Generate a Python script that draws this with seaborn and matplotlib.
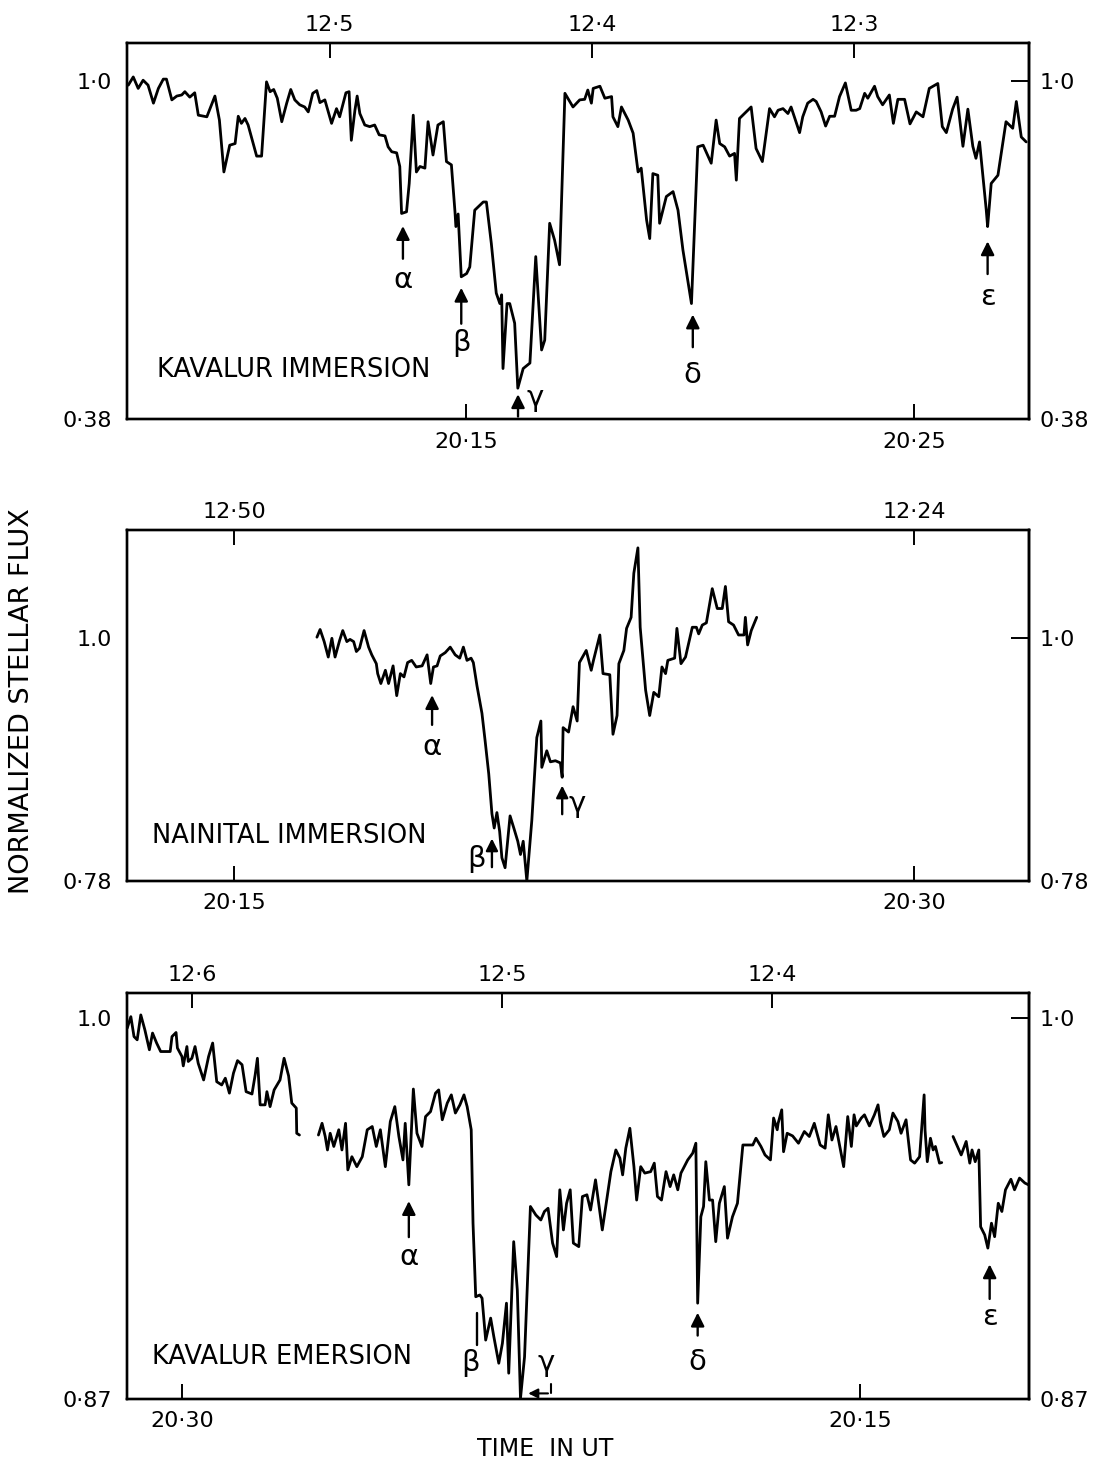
import matplotlib
matplotlib.use('Agg')
import matplotlib.pyplot as plt
import seaborn as sns
import pandas as pd

# ---- Kavalur immersion (time in minutes after 20h UT, normalized flux)
kav_imm_time = [7.48, 7.59, 7.70, 7.81, 7.92, 8.04, 8.15, 8.26, 8.33, 8.45,
                8.56, 8.67, 8.74, 8.85, 8.96, 9.04, 9.23, 9.41, 9.51, 9.61,
                9.74, 9.86, 9.93, 10.00, 10.08, 10.15, 10.34, 10.45, 10.56, 10.64,
                10.72, 10.80, 10.90, 11.01, 11.10, 11.19, 11.30, 11.41, 11.49, 11.59,
                11.68, 11.75, 11.86, 12.01, 12.12, 12.19, 12.27, 12.33, 12.40, 12.45,
                12.53, 12.58, 12.64, 12.75, 12.86, 12.97, 13.07, 13.20, 13.27, 13.35,
                13.46, 13.53, 13.57, 13.68, 13.74, 13.83, 13.90, 13.98, 14.09, 14.16,
                14.27, 14.38, 14.50, 14.57, 14.68, 14.76, 14.78, 14.83, 14.90, 15.02,
                15.09, 15.20, 15.39, 15.46, 15.57, 15.68, 15.76, 15.80, 15.83, 15.92,
                15.98, 16.09, 16.16, 16.28, 16.43, 16.56, 16.69, 16.76, 16.87, 16.98,
                17.09, 17.21, 17.39, 17.54, 17.65, 17.72, 17.80, 17.84, 17.99, 18.10,
                18.25, 18.28, 18.39, 18.47, 18.62, 18.73, 18.84, 18.91, 19.03, 19.10,
                19.17, 19.28, 19.32, 19.47, 19.62, 19.73, 19.84, 20.03, 20.17, 20.29,
                20.47, 20.58, 20.66, 20.77, 20.88, 20.99, 21.03, 21.10, 21.36, 21.47,
                21.61, 21.77, 21.88, 21.96, 22.07, 22.18, 22.25, 22.44, 22.51, 22.62,
                22.74, 22.81, 22.92, 23.02, 23.11, 23.22, 23.33, 23.46, 23.59, 23.70,
                23.78, 23.89, 23.96, 24.11, 24.18, 24.29, 24.44, 24.53, 24.63, 24.78,
                24.90, 25.04, 25.19, 25.33, 25.52, 25.62, 25.71, 25.85, 25.95, 26.08,
                26.19, 26.30, 26.37, 26.45, 26.60, 26.63, 26.71, 26.86, 27.04, 27.19,
                27.27, 27.38, 27.49]
kav_imm_flux = [0.992, 1.007, 0.986, 1.001, 0.992, 0.959, 0.986, 1.003, 1.003, 0.965,
                0.972, 0.974, 0.980, 0.970, 0.978, 0.937, 0.934, 0.972, 0.928, 0.833,
                0.882, 0.885, 0.935, 0.922, 0.931, 0.919, 0.862, 0.862, 0.998, 0.980,
                0.984, 0.968, 0.925, 0.959, 0.984, 0.965, 0.956, 0.952, 0.943, 0.977,
                0.982, 0.960, 0.965, 0.922, 0.949, 0.934, 0.959, 0.978, 0.980, 0.891,
                0.946, 0.972, 0.940, 0.919, 0.916, 0.919, 0.901, 0.899, 0.879, 0.870,
                0.868, 0.843, 0.757, 0.760, 0.812, 0.937, 0.833, 0.843, 0.840, 0.925,
                0.864, 0.919, 0.925, 0.852, 0.846, 0.760, 0.733, 0.756, 0.641, 0.647,
                0.659, 0.763, 0.778, 0.778, 0.702, 0.611, 0.592, 0.608, 0.473, 0.592,
                0.592, 0.556, 0.437, 0.473, 0.483, 0.678, 0.507, 0.525, 0.739, 0.708,
                0.663, 0.977, 0.952, 0.965, 0.966, 0.983, 0.959, 0.986, 0.990, 0.968,
                0.971, 0.934, 0.916, 0.952, 0.928, 0.904, 0.833, 0.840, 0.745, 0.711,
                0.830, 0.827, 0.739, 0.788, 0.797, 0.763, 0.690, 0.592, 0.879, 0.882,
                0.849, 0.928, 0.885, 0.879, 0.862, 0.867, 0.818, 0.931, 0.952, 0.876,
                0.852, 0.949, 0.934, 0.946, 0.949, 0.940, 0.952, 0.905, 0.934, 0.959,
                0.966, 0.962, 0.943, 0.917, 0.935, 0.935, 0.971, 0.996, 0.946, 0.946,
                0.949, 0.977, 0.968, 0.990, 0.971, 0.956, 0.974, 0.922, 0.966, 0.966,
                0.921, 0.943, 0.934, 0.986, 0.995, 0.916, 0.905, 0.948, 0.970, 0.880,
                0.948, 0.880, 0.858, 0.888, 0.763, 0.733, 0.812, 0.827, 0.925, 0.913,
                0.962, 0.897, 0.888]

# ---- Nainital immersion
nai_imm_time = [16.83, 16.90, 16.99, 17.08, 17.16, 17.23, 17.33, 17.40, 17.49, 17.56,
                17.64, 17.70, 17.77, 17.87, 17.97, 18.04, 18.14, 18.17, 18.24, 18.34,
                18.41, 18.51, 18.59, 18.67, 18.75, 18.83, 18.92, 19.02, 19.15, 19.26,
                19.34, 19.40, 19.48, 19.55, 19.66, 19.77, 19.88, 19.98, 20.06, 20.14,
                20.23, 20.28, 20.36, 20.47, 20.54, 20.62, 20.69, 20.74, 20.80, 20.86,
                20.91, 20.98, 21.09, 21.18, 21.26, 21.32, 21.38, 21.46, 21.57, 21.68,
                21.77, 21.79, 21.90, 21.98, 22.09, 22.20, 22.24, 22.26, 22.38, 22.48,
                22.57, 22.62, 22.77, 22.88, 22.93, 23.07, 23.14, 23.29, 23.36, 23.45,
                23.49, 23.60, 23.66, 23.76, 23.82, 23.91, 23.96, 24.08, 24.17, 24.26,
                24.37, 24.44, 24.52, 24.57, 24.72, 24.77, 24.86, 24.96, 25.11, 25.20,
                25.25, 25.33, 25.42, 25.55, 25.66, 25.77, 25.84, 25.91, 26.02, 26.13,
                26.25, 26.28, 26.33, 26.41, 26.53]
nai_imm_flux = [1.001, 1.008, 0.997, 0.983, 1.000, 0.983, 0.998, 1.007, 0.997, 0.999,
                0.997, 0.988, 0.991, 1.007, 0.992, 0.985, 0.977, 0.968, 0.959, 0.971,
                0.959, 0.975, 0.948, 0.968, 0.965, 0.978, 0.980, 0.974, 0.975, 0.985,
                0.959, 0.974, 0.975, 0.984, 0.987, 0.992, 0.985, 0.982, 0.992, 0.980,
                0.982, 0.978, 0.957, 0.932, 0.907, 0.877, 0.841, 0.828, 0.842, 0.825,
                0.801, 0.792, 0.839, 0.827, 0.816, 0.804, 0.816, 0.780, 0.835, 0.910,
                0.925, 0.883, 0.898, 0.888, 0.889, 0.887, 0.874, 0.919, 0.915, 0.938,
                0.925, 0.978, 0.989, 0.971, 0.980, 1.003, 0.968, 0.967, 0.913, 0.930,
                0.977, 0.989, 1.009, 1.019, 1.059, 1.082, 1.010, 0.953, 0.930, 0.951,
                0.947, 0.974, 0.968, 0.980, 0.982, 1.009, 0.977, 0.983, 1.010, 1.010,
                1.004, 1.012, 1.014, 1.045, 1.027, 1.027, 1.047, 1.015, 1.012, 1.003,
                1.003, 1.019, 0.994, 1.007, 1.019]

# ---- Kavalur emersion (three pieces, gaps in the record)
kav_em_time_1 = [31.22, 31.14, 31.07, 31.00, 30.92, 30.83, 30.73, 30.66, 30.57, 30.48,
                 30.27, 30.23, 30.14, 30.11, 30.01, 29.98, 29.90, 29.87, 29.79, 29.72,
                 29.65, 29.53, 29.42, 29.33, 29.24, 29.13, 29.05, 28.96, 28.87, 28.78,
                 28.68, 28.59, 28.46, 28.39, 28.34, 28.28, 28.17, 28.13, 28.06, 27.97,
                 27.84, 27.75, 27.65, 27.58, 27.48, 27.47, 27.41]
kav_em_flux_1 = [0.9966, 1.0005, 0.9937, 0.9926, 1.0011, 0.9960, 0.9892, 0.9949, 0.9915, 0.9886,
                 0.9886, 0.9937, 0.9951, 0.9898, 0.9869, 0.9837, 0.9903, 0.9852, 0.9863, 0.9903,
                 0.9846, 0.9789, 0.9869, 0.9915, 0.9783, 0.9772, 0.9795, 0.9744, 0.9812, 0.9855,
                 0.9841, 0.9749, 0.9741, 0.9806, 0.9863, 0.9704, 0.9704, 0.9749, 0.9698, 0.9755,
                 0.9789, 0.9863, 0.9803, 0.9710, 0.9693, 0.9607, 0.9601]
kav_em_time_2 = [26.99, 26.91, 26.84, 26.79, 26.73, 26.65, 26.54, 26.47, 26.39, 26.34,
                 26.25, 26.14, 26.02, 25.91, 25.80, 25.71, 25.62, 25.51, 25.40, 25.30,
                 25.21, 25.12, 25.07, 24.99, 24.89, 24.81, 24.70, 24.62, 24.51, 24.40,
                 24.33, 24.25, 24.14, 24.05, 23.96, 23.86, 23.77, 23.70, 23.61, 23.57,
                 23.51, 23.42, 23.37, 23.29, 23.18, 23.11, 23.00, 22.92, 22.83, 22.78,
                 22.67, 22.59, 22.52, 22.43, 22.30, 22.18, 22.07, 21.99, 21.91, 21.81,
                 21.72, 21.65, 21.57, 21.50, 21.42, 21.35, 21.23, 21.15, 21.05, 20.97,
                 20.86, 20.71, 20.52, 20.41, 20.32, 20.26, 20.19, 20.10, 20.01, 19.95,
                 19.86, 19.77, 19.64, 19.56, 19.49, 19.40, 19.30, 19.21, 19.13, 19.04,
                 18.97, 18.82, 18.71, 18.64, 18.60, 18.53, 18.47, 18.42, 18.34, 18.27,
                 18.20, 18.12, 18.01, 17.94, 17.83, 17.72, 17.60, 17.38, 17.31, 17.20,
                 17.11, 16.99, 16.92, 16.84, 16.82, 16.74, 16.70, 16.62, 16.50, 16.37,
                 16.24, 16.13, 16.02, 15.89, 15.78, 15.71, 15.63, 15.54, 15.37, 15.28,
                 15.20, 15.14, 15.09, 14.98, 14.91, 14.80, 14.69, 14.61, 14.56, 14.48,
                 14.36, 14.28, 14.17, 14.10, 13.99, 13.89, 13.80, 13.69, 13.59, 13.57,
                 13.52, 13.45, 13.39, 13.34, 13.25, 13.20]
kav_em_flux_2 = [0.9601, 0.9641, 0.9596, 0.9550, 0.9607, 0.9562, 0.9619, 0.9550, 0.9641, 0.9482,
                 0.9527, 0.9493, 0.9527, 0.9619, 0.9630, 0.9562, 0.9619, 0.9493, 0.9647, 0.9698,
                 0.9596, 0.9516, 0.9641, 0.9431, 0.9758, 0.9607, 0.9562, 0.9664, 0.9681, 0.9744,
                 0.9755, 0.9653, 0.9710, 0.9738, 0.9676, 0.9704, 0.9738, 0.9698, 0.9619, 0.9300,
                 0.9049, 0.9055, 0.9044, 0.8901, 0.8976, 0.8913, 0.8822, 0.8890, 0.9027, 0.8788,
                 0.9237, 0.9072, 0.8702, 0.8844, 0.9357, 0.9328, 0.9311, 0.9340, 0.9351, 0.9232,
                 0.9186, 0.9414, 0.9277, 0.9368, 0.9414, 0.9232, 0.9220, 0.9391, 0.9397, 0.9345,
                 0.9448, 0.9277, 0.9476, 0.9550, 0.9522, 0.9465, 0.9556, 0.9624, 0.9493, 0.9379,
                 0.9493, 0.9471, 0.9476, 0.9505, 0.9391, 0.9379, 0.9476, 0.9425, 0.9465, 0.9414,
                 0.9471, 0.9516, 0.9539, 0.9573, 0.9027, 0.9322, 0.9357, 0.9510, 0.9379, 0.9379,
                 0.9237, 0.9368, 0.9425, 0.9249, 0.9322, 0.9368, 0.9567, 0.9567, 0.9590, 0.9562,
                 0.9533, 0.9516, 0.9659, 0.9619, 0.9641, 0.9687, 0.9544, 0.9607, 0.9598, 0.9573,
                 0.9613, 0.9596, 0.9641, 0.9567, 0.9556, 0.9670, 0.9584, 0.9630, 0.9493, 0.9664,
                 0.9562, 0.9670, 0.9632, 0.9659, 0.9670, 0.9632, 0.9670, 0.9704, 0.9647, 0.9596,
                 0.9619, 0.9676, 0.9647, 0.9607, 0.9653, 0.9516, 0.9505, 0.9527, 0.9738, 0.9619,
                 0.9510, 0.9590, 0.9550, 0.9562, 0.9505, 0.9507]
kav_em_time_3 = [12.95, 12.77, 12.66, 12.58, 12.53, 12.46, 12.38, 12.34, 12.25, 12.18,
                 12.10, 12.03, 11.95, 11.87, 11.79, 11.67, 11.59, 11.48, 11.36, 11.28]
kav_em_flux_3 = [0.9596, 0.9533, 0.9579, 0.9505, 0.9550, 0.9510, 0.9550, 0.9288, 0.9260, 0.9215,
                 0.9300, 0.9254, 0.9368, 0.9340, 0.9414, 0.9450, 0.9414, 0.9454, 0.9437, 0.9431]

# ---- event markers: (label, time, arrow tip, arrow base, label flux)
kav_imm_events = [('α', 13.60, 0.739, 0.669, 0.635),
                  ('β', 14.90, 0.626, 0.550, 0.520),
                  ('δ', 20.06, 0.577, 0.507, 0.461),
                  ('ε', 26.63, 0.711, 0.641, 0.604)]
nai_imm_events = [('α', 19.37, 0.951, 0.919, 0.901)]
kav_em_events = [('α', 24.99, 0.9385, 0.9243, 0.9186),
                  ('δ', 18.60, 0.9004, 0.8907, 0.8827),
                  ('ε', 12.14, 0.9169, 0.9032, 0.8981)]

sns.set_style('white')
plt.rcParams['font.family'] = ['DejaVu Sans']
plt.rcParams.update({'axes.linewidth': 1.7, 'text.color': 'black',
                     'xtick.color': 'black', 'ytick.color': 'black',
                     'axes.edgecolor': 'black'})

fig = plt.figure(figsize=(11.02, 14.60), dpi=100)
LEFT, WIDTH = 0.1155, 0.818
TICK_FS = 16
GREEK_FS = 21
LW = 2.0


def make_panel(rect, xlim, ylim, top_ticks, top_labels, bot_ticks, bot_labels,
               ylabels, rylabels):
  ax = fig.add_axes(rect)
  ax.set_xlim(*xlim)
  ax.set_ylim(*ylim)
  ax.set_xticks(bot_ticks, bot_labels)
  ax.set_yticks([ylim[0], 1.0], ylabels)
  ax.tick_params(direction='in', length=11, width=1.4, labelsize=TICK_FS)
  ax.tick_params(axis='x', pad=9)
  ax.tick_params(axis='y', pad=11)
  top = ax.twiny()
  top.set_xlim(*xlim)
  top.set_xticks(top_ticks, top_labels)
  top.tick_params(direction='in', length=11, width=1.4, labelsize=TICK_FS, pad=6)
  right = ax.secondary_yaxis('right')
  right.set_yticks([ylim[0], 1.0], rylabels)
  right.tick_params(direction='in', length=13, width=1.4, labelsize=TICK_FS, pad=8)
  return ax


def trace(ax, t, f):
  sns.lineplot(x=t, y=f, ax=ax, color='black', lw=LW, sort=False, estimator=None)
  ax.set_xlabel('')
  ax.set_ylabel('')


def up_arrow(ax, t, tip, base, scale=20):
  ax.annotate('', xy=(t, tip), xytext=(t, base),
              arrowprops=dict(arrowstyle='-|>', color='black', lw=1.7, mutation_scale=scale))


def arrows(ax, events):
  for lab, t, tip, base, lf in events:
    up_arrow(ax, t, tip, base)
    ax.text(t, lf, lab, ha='center', va='center', fontsize=GREEK_FS)


# panel 1: Kavalur immersion
ax1 = make_panel([LEFT, 0.7128, WIDTH, 0.2575], (7.457, 27.546), (0.38, 1.0685),
                 [11.97, 17.82, 23.66], ['12·5', '12·4', '12·3'],
                 [15, 25], ['20·15', '20·25'], ['0·38', '1·0'], ['0·38', '1·0'])
trace(ax1, kav_imm_time, kav_imm_flux)
arrows(ax1, kav_imm_events)
up_arrow(ax1, 16.165, 0.431, 0.38)
ax1.text(16.54, 0.419, 'γ', ha='center', va='center', fontsize=GREEK_FS)
ax1.text(8.11, 0.470, 'KAVALUR IMMERSION', ha='left', va='center', fontsize=18.5)

# panel 2: Nainital immersion
ax2 = make_panel([LEFT, 0.3966, WIDTH, 0.2404], (12.647, 32.53), (0.78, 1.0982),
                 [15, 30], ['12·50', '12·24'],
                 [15, 30], ['20·15', '20·30'], ['0·78', '1.0'], ['0·78', '1·0'])
trace(ax2, nai_imm_time, nai_imm_flux)
arrows(ax2, nai_imm_events)
up_arrow(ax2, 20.69, 0.821, 0.790, scale=18)
ax2.text(20.36, 0.800, 'β', ha='center', va='center', fontsize=GREEK_FS)
up_arrow(ax2, 22.24, 0.869, 0.838, scale=18)
ax2.text(22.57, 0.850, 'γ', ha='center', va='center', fontsize=GREEK_FS)
ax2.text(13.19, 0.821, 'NAINITAL IMMERSION', ha='left', va='center', fontsize=18.5)

# panel 3: Kavalur emersion (time runs right to left)
ax3 = make_panel([LEFT, 0.0418, WIDTH, 0.2779], (31.219, 11.276), (0.87, 1.0085),
                 [29.79, 22.92, 16.96], ['12·6', '12·5', '12·4'],
                 [30, 15], ['20·30', '20·15'], ['0·87', '1.0'], ['0·87', '1·0'])
em = pd.DataFrame({
  'time': kav_em_time_1 + kav_em_time_2 + kav_em_time_3,
  'flux': kav_em_flux_1 + kav_em_flux_2 + kav_em_flux_3,
  'piece': [1] * len(kav_em_time_1) + [2] * len(kav_em_time_2) + [3] * len(kav_em_time_3),
})
sns.lineplot(data=em, x='time', y='flux', units='piece', estimator=None, sort=False,
             ax=ax3, color='black', lw=LW)
ax3.set_xlabel('')
ax3.set_ylabel('')
arrows(ax3, kav_em_events)
ax3.plot([23.49, 23.49], [0.8884, 0.8993], color='black', lw=1.7)
ax3.text(23.63, 0.8822, 'β', ha='center', va='center', fontsize=GREEK_FS)
ax3.text(21.96, 0.8822, 'γ', ha='center', va='center', fontsize=GREEK_FS)
ax3.plot([21.85, 21.85], [0.8750, 0.8719], color='black', lw=1.5)
ax3.annotate('', xy=(22.41, 0.8719), xytext=(21.85, 0.8719),
             arrowprops=dict(arrowstyle='-|>', color='black', lw=1.5, mutation_scale=14))
ax3.text(30.68, 0.8844, 'KAVALUR EMERSION', ha='left', va='center', fontsize=18.5)

fig.text(0.020, 0.52, 'NORMALIZED STELLAR FLUX', rotation=90, ha='center', va='center',
         fontsize=19.5)
fig.text(0.4946, 0.0075, 'TIME  IN UT', ha='center', va='center', fontsize=17)

fig.savefig('out.png', dpi=100)
